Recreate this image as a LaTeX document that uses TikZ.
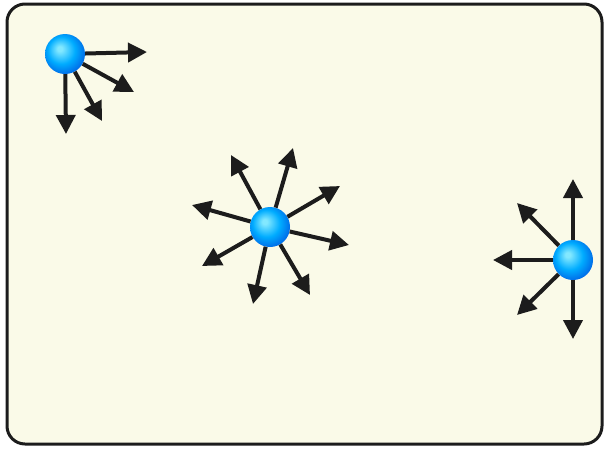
\documentclass[tikz,border=0pt]{standalone}
\usetikzlibrary{arrows.meta}
\definecolor{paper}{RGB}{250,250,232}
\definecolor{frame}{RGB}{28,28,28}
\definecolor{ballhi}{RGB}{130,232,255}
\definecolor{ballmid}{RGB}{0,172,255}
\definecolor{balledge}{RGB}{0,88,225}
\pgfdeclareradialshading{glossy}{\pgfpoint{-7bp}{7bp}}{%
  color(0bp)=(ballhi); color(3bp)=(ballhi); color(17bp)=(ballmid);
  color(32bp)=(balledge); color(50bp)=(balledge)}
\begin{document}
\begin{tikzpicture}[x=1pt, y=-1pt,
  ball/.style={circle, minimum size=40pt, inner sep=0pt, shading=glossy},
  ray/.style={-{Triangle[length=19pt,width=19pt]}, line width=4pt, frame}]
  \useasboundingbox (0,0) rectangle (605,448);
  % Box
  \draw[line width=3pt, frame, fill=paper, rounded corners=18pt] (7,4) rectangle (602,444);

  % Corner particle
  \node[ball] (p1) at (65,54) {};
  \foreach \x/\y [count=\i] in {147/52, 134/92, 102/121, 66/134} {
    \coordinate (a1-\i) at (\x,\y);
    \draw[ray] (p1) -- (a1-\i);
  }

  % Inner particle
  \node[ball] (p2) at (270,227) {};
  \foreach \x/\y [count=\i] in {231/155, 293/148, 340/186, 349/245, 310/295, 253/304, 202/266, 192/205} {
    \coordinate (a2-\i) at (\x,\y);
    \draw[ray] (p2) -- (a2-\i);
  }

  % Wall particle
  \node[ball] (p3) at (573,260) {};
  \foreach \x/\y [count=\i] in {573/179, 517/203, 493/260, 517/315, 573/339} {
    \coordinate (a3-\i) at (\x,\y);
    \draw[ray] (p3) -- (a3-\i);
  }
\end{tikzpicture}
\end{document}
